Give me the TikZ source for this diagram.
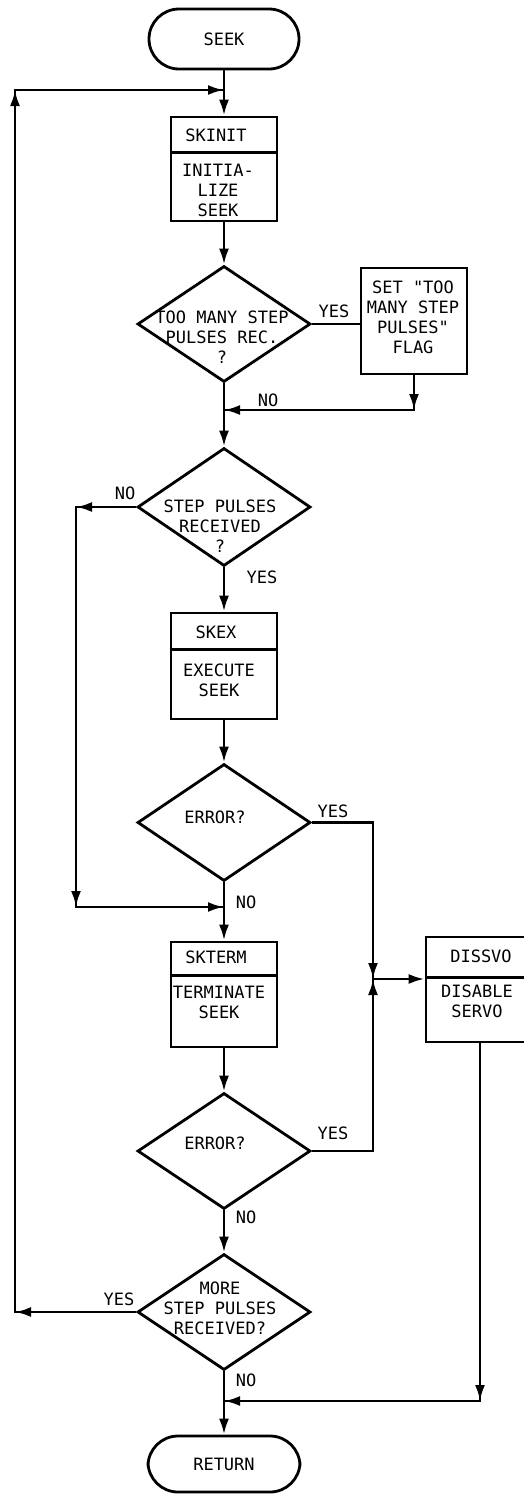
\documentclass[tikz,border=0pt]{standalone}
\usepackage{fontspec}
\newfontfamily\lett{DejaVu Sans Mono}
\usetikzlibrary{shapes.geometric,arrows.meta}
\tikzset{
  ln/.style={line width=2.8pt, line join=miter},
  arr/.style={ln, -{Latex[length=16pt,width=10pt]}},
  lettering/.style={font=\lett\fontsize{17}{20}\selectfont},
  boxn/.style={draw, line width=2.8pt, minimum width=106pt, inner sep=0pt},
  dec/.style={draw, diamond, line width=2.8pt, inner sep=0pt, minimum width=173pt, minimum height=116pt},
  term/.style={draw, line width=2.8pt, rounded corners=30pt, minimum width=150pt, minimum height=60pt, inner sep=0pt, lettering},
  txt/.style={align=center, inner sep=0pt, lettering},
}
\begin{document}
\begin{tikzpicture}[x=1pt,y=-1pt]
\useasboundingbox (0,0) rectangle (524,1494);

% terminators
\node[term] (seek) at (224,39) {SEEK};
\node[term, minimum width=152pt, minimum height=56pt] (ret) at (224,1464) {RETURN};

% process boxes
\node[boxn, minimum height=104pt] (skinit) at (224,169) {};
\draw[ln] ([yshift=-37pt]skinit.north west) -- ([yshift=-37pt]skinit.north east);
\node[txt] (tskinit) at (216,135) {SKINIT};
\node[txt] (tinit) at (218,190) {INITIA-\\LIZE\\SEEK};

\node[boxn, minimum height=106pt] (setbox) at (414,321) {};
\node[txt] (tset) at (413,317) {SET "TOO\\MANY STEP\\PULSES"\\FLAG};

\node[boxn, minimum height=106pt] (skex) at (224,666) {};
\draw[ln] ([yshift=-38pt]skex.north west) -- ([yshift=-38pt]skex.north east);
\node[txt] (tskex) at (216,632) {SKEX};
\node[txt] (texec) at (219,680) {EXECUTE\\SEEK};

\node[boxn, minimum height=105pt] (skterm) at (224,994.5) {};
\draw[ln] ([yshift=-35pt]skterm.north west) -- ([yshift=-35pt]skterm.north east);
\node[txt] (tskterm) at (216,957) {SKTERM};
\node[txt] (tterm) at (219,1002) {TERMINATE\\SEEK};

\node[boxn, minimum width=108pt, minimum height=105pt] (dissvo) at (480,989.5) {};
\draw[ln] ([yshift=-42pt]dissvo.north west) -- ([yshift=-42pt]dissvo.north east);
\node[txt] (tdissvo) at (481,956) {DISSVO};
\node[txt] (tdis) at (477,1001) {DISABLE\\SERVO};

% decisions
\node[dec] (d1) at (224,324) {};
\node[txt] (td1) at (222,337.5) {TOO MANY STEP\\PULSES REC.\\?};
\node[dec, minimum height=118pt] (d2) at (224,507) {};
\node[txt] (td2) at (220,526) {STEP PULSES\\RECEIVED\\?};
\node[dec, minimum height=117pt] (d3) at (224,822.5) {};
\node[txt] (td3) at (215,817) {ERROR?};
\node[dec] (d4) at (224,1151) {};
\node[txt] (td4) at (215,1143) {ERROR?};
\node[dec] (d5) at (224,1312) {};
\node[txt] (td5) at (220,1308) {MORE\\STEP PULSES\\RECEIVED?};

% junctions and corners
\coordinate (j0) at (224,90);
\coordinate (c0) at (15,90);
\coordinate (c5) at (15,1312);
\coordinate (j1) at (224,410);
\coordinate (cs) at (414,410);
\coordinate (c2) at (76,507);
\coordinate (c2b) at (76,907);
\coordinate (j2) at (224,907);
\coordinate (c3) at (373,822.5);
\coordinate (j3) at (373,979);
\coordinate (c4) at (373,1151);
\coordinate (c6) at (480,1401);
\coordinate (j4) at (224,1401);

% main spine
\draw[arr] (seek.south) -- (skinit.north);
\draw[arr] (skinit.south) -- (d1.north);
\draw[arr] (d1.south) -- (d2.north);
\draw[arr] (d2.south) -- (skex.north);
\draw[arr] (skex.south) -- (d3.north);
\draw[arr] (d3.south) -- (skterm.north);
\draw[arr] (skterm.south) -- (d4.north);
\draw[arr] (d4.south) -- (d5.north);
\draw[arr] (d5.south) -- (ret.north);

% loop back
\draw[ln] (d5.west) -- (c5) -- (c0) -- (j0);
\draw[arr] (d5.west) -- (c5);
\draw[arr] (c5) -- (c0);
\draw[arr] (c0) -- (j0);

% too many step pulses
\draw[ln] (d1.east) -- (d1.east -| setbox.west);
\draw[ln] (setbox.south) -- (cs) -- (j1);
\draw[arr] (setbox.south) -- (cs);
\draw[arr] (cs) -- (j1);

% no step pulses
\draw[ln] (d2.west) -- (c2) -- (c2b) -- (j2);
\draw[arr] (d2.west) -- (c2);
\draw[arr] (c2) -- (c2b);
\draw[arr] (c2b) -- (j2);

% errors
\draw[ln] (d3.east) -- (c3) -- (j3);
\draw[arr] (c3) -- (j3);
\draw[ln] (d4.east) -- (c4) -- (j3);
\draw[arr] (c4) -- (j3);
\draw[arr] (j3) -- (j3 -| dissvo.west);

% disable servo to return
\draw[ln] (dissvo.south) -- (c6) -- (j4);
\draw[arr] (dissvo.south) -- (c6);
\draw[arr] (c6) -- (j4);

% labels
\node[txt] (yes1) at (334,311) {YES};
\node[txt] (no1) at (268,400) {NO};
\node[txt] (no2) at (125,493) {NO};
\node[txt] (yes2) at (262,577) {YES};
\node[txt] (yes3) at (333,811) {YES};
\node[txt] (no3) at (246,902) {NO};
\node[txt] (yes4) at (333,1133) {YES};
\node[txt] (no4) at (246,1217) {NO};
\node[txt] (yes5) at (119,1299) {YES};
\node[txt] (no5) at (246,1380) {NO};
\end{tikzpicture}
\end{document}
